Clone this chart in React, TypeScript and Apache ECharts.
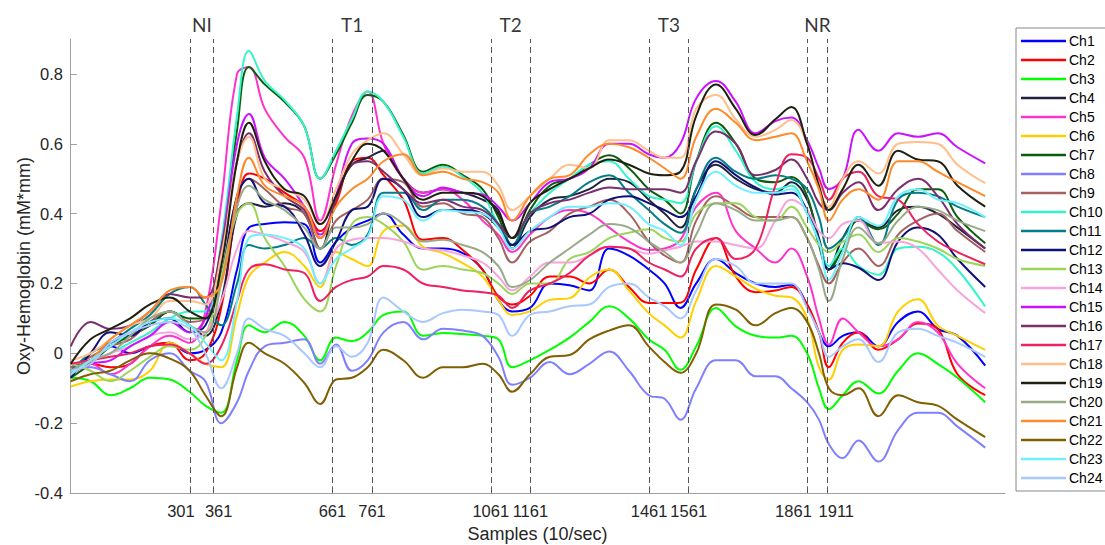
import React, { useEffect, useRef } from "react";
import * as echarts from "echarts";

const samples = [0, 50, 100, 150, 200, 250, 300, 340, 380, 420, 450, 490, 540, 590, 630, 670, 710, 750, 790, 840, 890, 940, 990, 1040, 1080, 1115, 1160, 1210, 1260, 1310, 1360, 1410, 1460, 1500, 1540, 1580, 1630, 1680, 1730, 1780, 1820, 1860, 1890, 1915, 1950, 1990, 2040, 2090, 2140, 2190, 2240, 2310];

const ch1 = [-0.05, -0.02, 0.02, 0.0, 0.02, 0.03, 0.0, 0.01, 0.06, 0.24, 0.36, 0.37, 0.375, 0.37, 0.26, 0.32, 0.36, 0.38, 0.4, 0.34, 0.3, 0.3, 0.287, 0.24, 0.153, 0.12, 0.13, 0.2, 0.195, 0.18, 0.3, 0.28, 0.24, 0.2, 0.13, 0.2, 0.27, 0.23, 0.2, 0.19, 0.196, 0.14, 0.06, 0.02, 0.05, 0.06, 0.02, 0.09, 0.12, 0.07, 0.05, -0.035];
const ch2 = [-0.04, -0.03, -0.04, -0.03, 0.02, 0.03, -0.02, 0.0, 0.13, 0.42, 0.515, 0.5, 0.46, 0.42, 0.35, 0.43, 0.55, 0.56, 0.51, 0.44, 0.325, 0.33, 0.296, 0.24, 0.163, 0.14, 0.165, 0.22, 0.22, 0.2, 0.24, 0.19, 0.144, 0.144, 0.145, 0.24, 0.33, 0.22, 0.175, 0.18, 0.19, 0.14, 0.06, -0.04, 0.03, 0.06, 0.01, 0.04, 0.085, 0.07, -0.06, -0.12];
const ch3 = [-0.07, -0.08, -0.12, -0.1, -0.07, -0.075, -0.11, -0.15, -0.17, -0.02, 0.08, 0.06, 0.09, 0.05, -0.02, 0.045, 0.035, 0.06, 0.11, 0.12, 0.05, 0.058, 0.055, 0.05, 0.04, -0.04, -0.02, 0.01, 0.045, 0.09, 0.135, 0.1, 0.04, 0.01, -0.047, 0.02, 0.13, 0.077, 0.05, 0.045, 0.05, 0.0, -0.1, -0.16, -0.12, -0.08, -0.115, -0.05, 0.0, -0.03, -0.07, -0.14];
const ch4 = [-0.06, -0.02, 0.03, 0.05, 0.08, 0.12, 0.08, 0.05, 0.15, 0.4, 0.43, 0.42, 0.43, 0.4, 0.3, 0.45, 0.54, 0.56, 0.58, 0.5, 0.46, 0.47, 0.46, 0.44, 0.41, 0.3, 0.39, 0.44, 0.45, 0.47, 0.5, 0.49, 0.44, 0.4, 0.36, 0.47, 0.54, 0.5, 0.47, 0.46, 0.49, 0.44, 0.33, 0.24, 0.33, 0.38, 0.36, 0.41, 0.42, 0.4, 0.36, 0.3];
const ch5 = [-0.05, -0.03, -0.06, -0.03, 0.02, 0.05, 0.03, 0.12, 0.43, 0.8, 0.82, 0.7, 0.62, 0.56, 0.38, 0.54, 0.68, 0.75, 0.6, 0.5, 0.46, 0.47, 0.44, 0.38, 0.34, 0.29, 0.34, 0.39, 0.41, 0.4, 0.36, 0.32, 0.296, 0.3, 0.325, 0.42, 0.46, 0.35, 0.3, 0.26, 0.3, 0.22, 0.1, 0.025, 0.1, 0.06, 0.02, 0.04, 0.09, 0.06, -0.03, -0.1];
const ch6 = [-0.095, -0.08, -0.075, -0.075, -0.05, 0.03, 0.0, -0.03, -0.04, 0.11, 0.22, 0.26, 0.29, 0.25, 0.19, 0.29, 0.27, 0.25, 0.35, 0.365, 0.305, 0.287, 0.258, 0.22, 0.153, 0.11, 0.12, 0.153, 0.158, 0.217, 0.24, 0.18, 0.115, 0.08, 0.045, 0.15, 0.25, 0.22, 0.185, 0.165, 0.16, 0.1, -0.04, -0.075, 0.01, 0.025, 0.02, 0.12, 0.155, 0.08, 0.05, 0.01];
const ch7 = [-0.07, -0.03, 0.02, 0.05, 0.08, 0.12, 0.1, 0.1, 0.3, 0.64, 0.82, 0.77, 0.72, 0.65, 0.5, 0.57, 0.66, 0.74, 0.72, 0.625, 0.52, 0.54, 0.51, 0.47, 0.39, 0.31, 0.41, 0.48, 0.5, 0.54, 0.567, 0.53, 0.47, 0.44, 0.4, 0.55, 0.66, 0.6, 0.5, 0.49, 0.505, 0.45, 0.31, 0.24, 0.3, 0.38, 0.355, 0.4, 0.47, 0.47, 0.39, 0.315];
const ch8 = [-0.05, -0.04, -0.06, -0.08, -0.02, 0.0, -0.05, -0.08, -0.2, -0.14, -0.05, 0.02, 0.03, 0.04, -0.03, 0.025, -0.05, -0.02, 0.06, 0.09, 0.04, 0.07, 0.065, 0.05, -0.01, -0.09, -0.07, -0.025, -0.06, -0.03, 0.005, -0.05, -0.12, -0.13, -0.19, -0.1, -0.02, -0.02, -0.066, -0.066, -0.1, -0.14, -0.19, -0.26, -0.3, -0.25, -0.31, -0.22, -0.17, -0.17, -0.21, -0.27];
const ch9 = [-0.04, -0.01, 0.02, 0.04, 0.09, 0.12, 0.09, 0.1, 0.22, 0.45, 0.5, 0.47, 0.42, 0.4, 0.3, 0.38, 0.41, 0.44, 0.5, 0.49, 0.42, 0.43, 0.4, 0.39, 0.33, 0.26, 0.32, 0.35, 0.4, 0.42, 0.44, 0.4, 0.32, 0.28, 0.26, 0.38, 0.45, 0.42, 0.39, 0.39, 0.39, 0.33, 0.25, 0.2, 0.26, 0.3, 0.25, 0.34, 0.38, 0.4, 0.35, 0.29];
const ch10 = [-0.05, -0.02, 0.0, 0.03, 0.06, 0.1, 0.12, 0.12, 0.32, 0.68, 0.866, 0.78, 0.725, 0.65, 0.5, 0.58, 0.67, 0.75, 0.72, 0.62, 0.515, 0.534, 0.506, 0.458, 0.37, 0.33, 0.4, 0.46, 0.5, 0.54, 0.55, 0.5, 0.45, 0.44, 0.43, 0.55, 0.65, 0.58, 0.49, 0.47, 0.48, 0.4, 0.32, 0.25, 0.3, 0.25, 0.225, 0.3, 0.305, 0.29, 0.24, 0.134];
const ch11 = [-0.05, 0.0, 0.03, 0.07, 0.11, 0.17, 0.19, 0.14, 0.08, 0.2, 0.31, 0.3, 0.31, 0.33, 0.3, 0.33, 0.31, 0.34, 0.46, 0.46, 0.41, 0.44, 0.44, 0.42, 0.37, 0.31, 0.4, 0.42, 0.45, 0.49, 0.51, 0.46, 0.41, 0.37, 0.345, 0.47, 0.56, 0.52, 0.5, 0.51, 0.5, 0.47, 0.39, 0.3, 0.33, 0.39, 0.31, 0.44, 0.46, 0.45, 0.42, 0.39];
const ch12 = [-0.07, 0.0, 0.06, 0.05, 0.09, 0.1, 0.06, 0.08, 0.22, 0.45, 0.5, 0.43, 0.42, 0.34, 0.25, 0.32, 0.41, 0.42, 0.5, 0.47, 0.39, 0.41, 0.41, 0.4, 0.36, 0.31, 0.35, 0.36, 0.39, 0.4, 0.44, 0.45, 0.43, 0.41, 0.39, 0.45, 0.55, 0.51, 0.475, 0.455, 0.46, 0.41, 0.32, 0.24, 0.258, 0.245, 0.21, 0.32, 0.36, 0.34, 0.27, 0.19];
const ch13 = [-0.03, -0.05, -0.08, -0.05, -0.01, 0.02, 0.01, 0.05, 0.22, 0.4, 0.43, 0.33, 0.25, 0.155, 0.12, 0.25, 0.37, 0.39, 0.37, 0.32, 0.24, 0.25, 0.24, 0.23, 0.2, 0.17, 0.2, 0.2, 0.27, 0.29, 0.33, 0.345, 0.355, 0.33, 0.32, 0.4, 0.43, 0.43, 0.39, 0.38, 0.42, 0.36, 0.31, 0.29, 0.32, 0.34, 0.29, 0.33, 0.32, 0.3, 0.27, 0.25];
const ch14 = [-0.03, -0.02, 0.0, 0.02, 0.05, 0.06, 0.04, 0.06, 0.15, 0.3, 0.35, 0.34, 0.32, 0.29, 0.2, 0.3, 0.325, 0.33, 0.33, 0.32, 0.3, 0.295, 0.28, 0.26, 0.22, 0.18, 0.22, 0.26, 0.26, 0.28, 0.305, 0.3, 0.285, 0.295, 0.305, 0.32, 0.32, 0.31, 0.3, 0.38, 0.44, 0.41, 0.35, 0.33, 0.37, 0.38, 0.315, 0.32, 0.3, 0.24, 0.18, 0.115];
const ch15 = [-0.06, -0.03, -0.02, 0.02, 0.05, 0.09, 0.06, 0.1, 0.3, 0.6, 0.685, 0.56, 0.5, 0.42, 0.34, 0.45, 0.6, 0.615, 0.6, 0.5, 0.45, 0.475, 0.46, 0.455, 0.42, 0.38, 0.43, 0.49, 0.5, 0.53, 0.6, 0.6, 0.57, 0.56, 0.6, 0.73, 0.78, 0.72, 0.63, 0.665, 0.675, 0.61, 0.53, 0.47, 0.5, 0.64, 0.58, 0.63, 0.62, 0.63, 0.59, 0.544];
const ch16 = [0.02, 0.09, 0.07, 0.08, 0.12, 0.17, 0.16, 0.16, 0.3, 0.55, 0.63, 0.52, 0.45, 0.41, 0.33, 0.44, 0.54, 0.55, 0.52, 0.47, 0.43, 0.44, 0.42, 0.41, 0.37, 0.33, 0.4, 0.43, 0.44, 0.46, 0.475, 0.47, 0.47, 0.47, 0.46, 0.55, 0.635, 0.6, 0.51, 0.525, 0.555, 0.5, 0.43, 0.41, 0.46, 0.49, 0.41, 0.47, 0.5, 0.45, 0.37, 0.3];
const ch17 = [-0.03, -0.02, -0.01, 0.0, 0.02, 0.025, 0.0, -0.03, 0.02, 0.15, 0.24, 0.255, 0.24, 0.23, 0.15, 0.19, 0.21, 0.22, 0.25, 0.24, 0.2, 0.19, 0.18, 0.175, 0.165, 0.13, 0.18, 0.2, 0.23, 0.28, 0.305, 0.3, 0.26, 0.24, 0.22, 0.3, 0.33, 0.27, 0.3, 0.48, 0.57, 0.56, 0.5, 0.44, 0.5, 0.52, 0.45, 0.44, 0.37, 0.32, 0.29, 0.255];
const ch18 = [-0.02, 0.0, 0.04, 0.08, 0.1, 0.15, 0.15, 0.14, 0.28, 0.55, 0.62, 0.5, 0.47, 0.44, 0.37, 0.47, 0.57, 0.61, 0.63, 0.57, 0.51, 0.53, 0.52, 0.52, 0.48, 0.41, 0.45, 0.5, 0.54, 0.53, 0.61, 0.61, 0.58, 0.56, 0.56, 0.7, 0.74, 0.67, 0.62, 0.64, 0.668, 0.6, 0.47, 0.42, 0.5, 0.55, 0.515, 0.6, 0.605, 0.6, 0.54, 0.487];
const ch19 = [-0.03, 0.04, 0.07, 0.1, 0.14, 0.16, 0.12, 0.1, 0.25, 0.55, 0.66, 0.55, 0.47, 0.45, 0.37, 0.45, 0.55, 0.6, 0.58, 0.5, 0.44, 0.46, 0.46, 0.45, 0.4, 0.33, 0.43, 0.47, 0.5, 0.53, 0.555, 0.54, 0.515, 0.51, 0.52, 0.68, 0.77, 0.7, 0.625, 0.67, 0.705, 0.6, 0.48, 0.41, 0.47, 0.54, 0.48, 0.58, 0.555, 0.55, 0.48, 0.42];
const ch20 = [-0.05, -0.02, 0.0, 0.05, 0.1, 0.12, 0.08, 0.06, 0.2, 0.42, 0.48, 0.44, 0.41, 0.36, 0.3, 0.36, 0.36, 0.37, 0.4, 0.37, 0.32, 0.325, 0.31, 0.29, 0.25, 0.19, 0.21, 0.26, 0.3, 0.34, 0.37, 0.36, 0.32, 0.29, 0.26, 0.34, 0.43, 0.41, 0.38, 0.38, 0.39, 0.33, 0.24, 0.15, 0.27, 0.36, 0.315, 0.38, 0.42, 0.41, 0.38, 0.35];
const ch21 = [-0.06, -0.02, 0.04, 0.08, 0.12, 0.18, 0.19, 0.16, 0.2, 0.45, 0.56, 0.48, 0.45, 0.42, 0.33, 0.42, 0.47, 0.5, 0.55, 0.57, 0.51, 0.52, 0.5, 0.49, 0.46, 0.38, 0.45, 0.5, 0.51, 0.57, 0.6, 0.59, 0.56, 0.53, 0.5, 0.62, 0.7, 0.66, 0.61, 0.62, 0.63, 0.55, 0.47, 0.38, 0.44, 0.47, 0.44, 0.55, 0.55, 0.52, 0.49, 0.45];
const ch22 = [-0.08, -0.06, -0.05, -0.02, 0.0, -0.015, -0.05, -0.12, -0.18, -0.04, 0.03, 0.0, -0.03, -0.085, -0.145, -0.075, -0.07, -0.04, 0.01, -0.02, -0.07, -0.04, -0.04, -0.03, -0.06, -0.11, -0.06, -0.01, -0.005, 0.04, 0.065, 0.08, 0.02, -0.025, -0.056, 0.0, 0.14, 0.125, 0.08, 0.115, 0.13, 0.09, 0.0, -0.1, -0.12, -0.1, -0.18, -0.12, -0.14, -0.15, -0.19, -0.24];
const ch23 = [-0.06, -0.02, 0.02, 0.06, 0.09, 0.1, 0.08, 0.03, -0.02, 0.15, 0.33, 0.34, 0.33, 0.3, 0.2, 0.27, 0.3, 0.334, 0.45, 0.44, 0.38, 0.41, 0.405, 0.4, 0.36, 0.3, 0.35, 0.39, 0.42, 0.42, 0.43, 0.42, 0.37, 0.35, 0.31, 0.44, 0.52, 0.48, 0.46, 0.46, 0.47, 0.4, 0.32, 0.21, 0.29, 0.39, 0.365, 0.45, 0.47, 0.44, 0.43, 0.39];
const ch24 = [-0.05, -0.03, 0.03, 0.06, 0.08, 0.09, 0.07, 0.0, -0.1, 0.0, 0.1, 0.07, 0.05, 0.0, -0.04, 0.02, -0.01, 0.03, 0.16, 0.12, 0.09, 0.115, 0.125, 0.12, 0.11, 0.05, 0.11, 0.12, 0.135, 0.14, 0.19, 0.2, 0.16, 0.135, 0.1, 0.18, 0.27, 0.25, 0.2, 0.2, 0.2, 0.13, 0.06, -0.01, 0.02, 0.04, -0.025, 0.06, 0.07, 0.05, 0.03, -0.01];

const channelNames = ["Ch1", "Ch2", "Ch3", "Ch4", "Ch5", "Ch6", "Ch7", "Ch8", "Ch9", "Ch10", "Ch11", "Ch12", "Ch13", "Ch14", "Ch15", "Ch16", "Ch17", "Ch18", "Ch19", "Ch20", "Ch21", "Ch22", "Ch23", "Ch24"];
const channelColors = ["#0000FF", "#FF0000", "#00FF00", "#21213F", "#FF33CC", "#FFD000", "#0B5D0B", "#8080FF", "#A56060", "#33F5C8", "#047E86", "#10107A", "#9BD55A", "#F7A3DC", "#CC11FF", "#7A2E6E", "#EE2060", "#FFBE8A", "#202012", "#99AA88", "#FF8A2A", "#806000", "#70F0FF", "#A8C8FF"];

const markerSamples = [301, 361, 661, 761, 1061, 1161, 1461, 1561, 1861, 1911];
// label nudges (rich style keys) so close tick labels do not collide
const markerLabelStyle = ["l9", "r5", "", "", "", "", "", "", "l14", "r9"];
const phaseNames = ["NI", "T1", "T2", "T3", "NR"];
const phaseCenters = [331, 711, 1111, 1511, 1886];
const yTicks = [-0.4, -0.2, 0, 0.2, 0.4, 0.6, 0.8];

const FONT = "'Liberation Sans', Arial, Helvetica, sans-serif";
const TICK_SIZE = 16.5;

export default function App() {
  const ref = useRef<HTMLDivElement>(null);

  useEffect(() => {
    if (!ref.current) return;
    const chart = echarts.init(ref.current, null, { renderer: "svg" });
    const channels = [ch1, ch2, ch3, ch4, ch5, ch6, ch7, ch8, ch9, ch10, ch11, ch12, ch13, ch14, ch15, ch16, ch17, ch18, ch19, ch20, ch21, ch22, ch23, ch24];

    const series: any[] = channels.map((vals, i) => ({
      name: channelNames[i],
      type: "line",
      data: samples.map((s, j) => [s, vals[j]]),
      showSymbol: false,
      symbol: "none",
      smooth: 0.4,
      lineStyle: { width: 2, color: channelColors[i] },
      itemStyle: { color: channelColors[i] },
      emphasis: { disabled: true },
      silent: true,
      z: 3,
    }));

    series.push({
      name: "markers",
      type: "line",
      data: [],
      silent: true,
      z: 2,
      markLine: {
        silent: true,
        symbol: ["none", "none"],
        label: { show: false },
        lineStyle: { type: [6, 4], color: "#555555", width: 1 },
        data: markerSamples.map((s) => ({ xAxis: s })),
      },
    });

    series.push({
      name: "phases",
      type: "scatter",
      data: phaseCenters.map((c, i) => ({ value: [c, 0.9], name: phaseNames[i] })),
      symbolSize: 1,
      itemStyle: { color: "rgba(0,0,0,0)" },
      silent: true,
      clip: false,
      label: {
        show: true,
        position: "top",
        distance: 5,
        formatter: "{b}",
        fontSize: 19,
        fontFamily: "Lato, 'Open Sans', sans-serif",
        color: "#000000",
      },
    });

    const base = { fontSize: TICK_SIZE, color: "#262626", fontFamily: FONT };
    const tickRich = {
      l9: { ...base, padding: [0, 18, 0, 0] },
      r5: { ...base, padding: [0, 0, 0, 10] },
      l14: { ...base, padding: [0, 28, 0, 0] },
      r9: { ...base, padding: [0, 0, 0, 18] },
    };

    chart.setOption({
      animation: false,
      backgroundColor: "#ffffff",
      grid: { left: 70, right: 100, top: 39, bottom: 52, containLabel: false, outerBoundsMode: "none" },
      legend: {
        data: channelNames,
        orient: "vertical",
        left: 1016,
        top: 28,
        itemWidth: 45,
        itemHeight: 2.5,
        itemGap: 5,
        icon: "rect",
        padding: [6, 40, 6, 5],
        borderColor: "#888888",
        borderWidth: 1,
        backgroundColor: "#ffffff",
        selectedMode: false,
        textStyle: { fontSize: 14, color: "#000000", fontFamily: FONT, padding: [0, 0, 0, -2] },
      },
      xAxis: {
        type: "value",
        min: -2,
        max: 2360,
        splitLine: { show: false },
        axisLine: { show: true, onZero: false, lineStyle: { color: "#a0a0a0", width: 1 } },
        axisTick: { show: true, inside: true, length: 7, customValues: markerSamples, lineStyle: { color: "#a0a0a0" } },
        axisLabel: {
          customValues: markerSamples,
          hideOverlap: false,
          showMinLabel: true,
          showMaxLabel: true,
          ...base,
          margin: 9,
          rich: tickRich,
          formatter: (v: number) => {
            const idx = markerSamples.indexOf(Math.round(v));
            const key = idx >= 0 ? markerLabelStyle[idx] : "";
            const txt = String(Math.round(v));
            return key ? `{${key}|${txt}}` : txt;
          },
        },
        name: "Samples (10/sec)",
        nameLocation: "middle",
        nameGap: 32,
        nameMoveOverlap: false,
        nameTextStyle: { fontSize: 18, color: "#262626", fontFamily: FONT },
      },
      yAxis: {
        type: "value",
        min: -0.4,
        max: 0.9,
        interval: 0.2,
        splitLine: { show: false },
        axisLine: { show: true, onZero: false, lineStyle: { color: "#a0a0a0", width: 1 } },
        axisTick: { show: true, inside: true, length: 7, customValues: yTicks, lineStyle: { color: "#a0a0a0" } },
        axisLabel: {
          customValues: yTicks,
          ...base,
          margin: 7,
          formatter: (v: number) => {
            const r = Math.round(v * 10) / 10;
            if (Math.abs(r - 0.9) < 1e-9) return "";
            return String(r === 0 ? 0 : r);
          },
        },
        name: "Oxy-Hemoglobin (mM*mm)",
        nameLocation: "middle",
        nameGap: 37,
        nameMoveOverlap: false,
        nameTextStyle: { fontSize: 18, color: "#262626", fontFamily: FONT },
      },
      series,
    });

    return () => chart.dispose();
  }, []);

  return (
    <div
      ref={ref}
      style={{ position: "absolute", left: 0, top: 0, width: 1105, height: 545, background: "#fff" }}
    />
  );
}
